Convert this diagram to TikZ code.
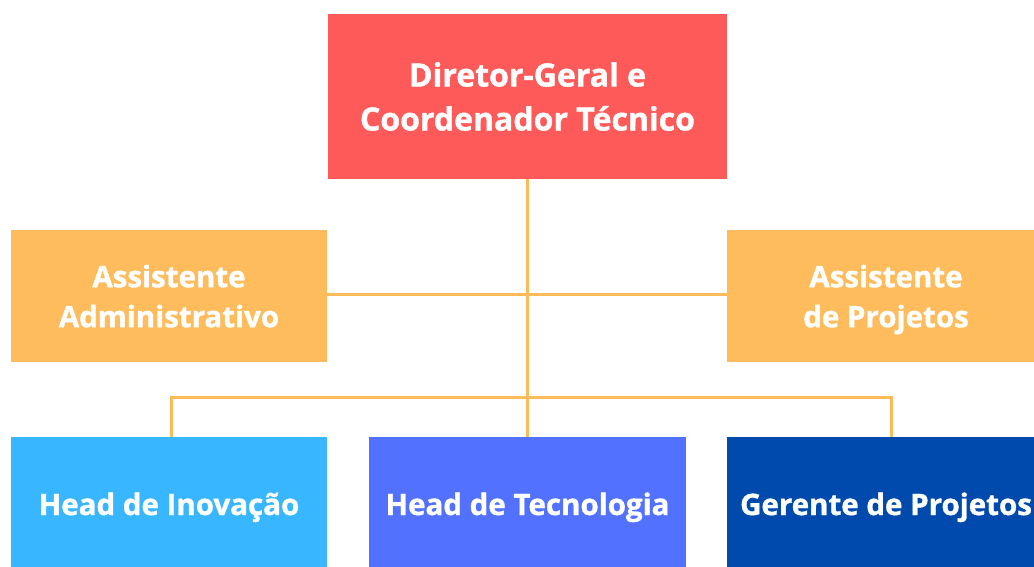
\documentclass[tikz,border=0pt]{standalone}
\usepackage{fontspec}
\setmainfont{Open Sans}[BoldFeatures={FakeBold=1.2}]
\definecolor{cred}{HTML}{FF5A5A}
\definecolor{corange}{HTML}{FEBC5C}
\definecolor{cline}{HTML}{FDBB5A}
\definecolor{clight}{HTML}{38B6FF}
\definecolor{cblue}{HTML}{5271FF}
\definecolor{cdark}{HTML}{004AAD}
\tikzset{
  box/.style={rectangle, inner sep=0pt, text=white, align=center,
    font=\fontsize{29.5}{40}\selectfont\bfseries},
  topbox/.style={box, font=\fontsize{32}{44}\selectfont\bfseries},
  midbox/.style={box, fill=corange, minimum height=132pt, text depth=0pt},
  lowbox/.style={box, minimum height=134pt, text height=22pt, text depth=0pt},
  conn/.style={draw=cline, line width=3pt}
}
\begin{document}
\begin{tikzpicture}[x=1pt,y=-1pt]
\clip (0,0) rectangle (1034,566);
\fill[white] (0,0) rectangle (1034,566);
\node[topbox, fill=cred, minimum width=399pt, minimum height=165pt] (dir) at (527.5,96.5) {Diretor-Geral e\\Coordenador Técnico};
\node[midbox, minimum width=316pt] (adm) at (169,296) {Assistente\\Administrativo};
\node[midbox, minimum width=318pt] (proj) at (886,296) {Assistente\\de Projetos};
\node[lowbox, fill=clight, minimum width=316pt] (ino) at (169,504) {Head de Inovação};
\node[lowbox, fill=cblue, minimum width=317pt] (tec) at (527.5,504) {Head de Tecnologia};
\node[lowbox, fill=cdark, minimum width=318pt] (ger) at (886,504) {Gerente de Projetos};
\coordinate (lft) at (171,397);
\coordinate (rgt) at (891,397);
\draw[conn] ([yshift=2pt]adm.east) -- ([yshift=2pt]proj.west);
\draw[conn] (dir.south) -- (tec.north);
\draw[conn, line join=miter] (ino.north -| lft) -- (lft) -- (rgt) -- (ger.north -| rgt);
\end{tikzpicture}
\end{document}
